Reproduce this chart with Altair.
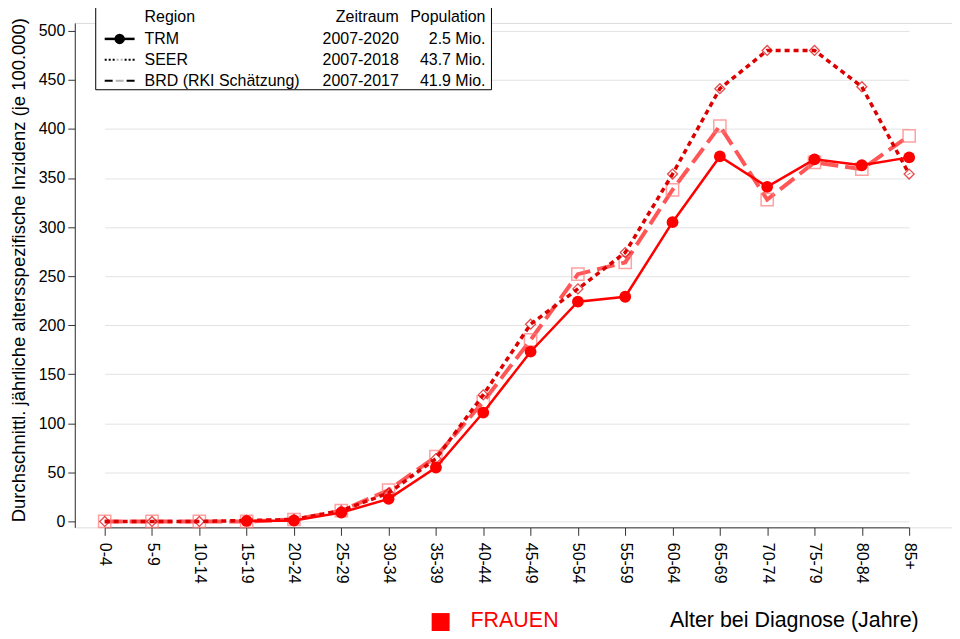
import altair as alt
import pandas as pd

ages = ["0-4", "5-9", "10-14", "15-19", "20-24", "25-29", "30-34", "35-39", "40-44",
        "45-49", "50-54", "55-59", "60-64", "65-69", "70-74", "75-79", "80-84", "85+"]
trm = [None, None, None, 0.5, 1, 9, 23, 55, 111, 173, 224, 229, 305, 372, 341, 369, 363, 371]
seer = [0, 0, 0, 1, 2, 11, 29, 64, 129, 201, 237, 274, 354, 441, 480, 480, 443, 354]
brd = [0, 0, 0, 0, 2, 11, 32, 66, 122, 185, 252, 264, 338, 403, 328, 366, 359, 393]
y_ticks = [0, 50, 100, 150, 200, 250, 300, 350, 400, 450, 500]

legend_header = ["Region", "Zeitraum", "Population"]
legend_region = ["TRM", "SEER", "BRD (RKI Schätzung)"]
legend_period = ["2007-2020", "2007-2018", "2007-2017"]
legend_pop = ["2.5 Mio.", "43.7 Mio.", "41.9 Mio."]

df = pd.DataFrame({"age": ages, "TRM": trm, "SEER": seer, "BRD": brd})

FONT = "Liberation Sans"
W, H = 880, 506

x_enc = alt.X("age:N", sort=ages, title=None,
              scale=alt.Scale(type="point", domain=ages, range=[30, 837], padding=0),
              axis=alt.Axis(labelAngle=90, labelAlign="left", labelBaseline="middle",
                            labelFontSize=16, labelColor="black", labelFont=FONT,
                            labelPadding=7, tickSize=8, tickColor="#333", domainColor="#333",
                            grid=False))
y_scale = alt.Scale(domain=[-6, 508], nice=False, zero=False)
y_axis = alt.Axis(values=y_ticks, labelFontSize=16, labelColor="black", labelFont=FONT,
                  tickSize=7, tickColor="#333", domainColor="#333", labelPadding=3,
                  grid=True, gridColor="#e3e3e3", gridWidth=1)

base = alt.Chart(df)

# y-axis + grid carrier
axis_layer = base.mark_point(opacity=0).encode(
    x=x_enc, y=alt.Y("SEER:Q", scale=y_scale, axis=y_axis, title=None))

brd_line = base.mark_line(color="#ff4545", strokeWidth=4, strokeDash=[18, 7], opacity=0.9).encode(
    x=x_enc, y=alt.Y("BRD:Q", scale=y_scale))
brd_pts = base.mark_point(shape="square", size=150, filled=False, color="#ff7a7a", strokeWidth=1.5).encode(
    x=x_enc, y=alt.Y("BRD:Q", scale=y_scale))
seer_line = base.mark_line(color="#dd0000", strokeWidth=3.5, strokeDash=[5, 4]).encode(
    x=x_enc, y=alt.Y("SEER:Q", scale=y_scale))
seer_pts = base.mark_point(shape="diamond", size=100, filled=False, color="#dd0000", strokeWidth=1.3).encode(
    x=x_enc, y=alt.Y("SEER:Q", scale=y_scale))
trm_line = base.mark_line(color="#ff0000", strokeWidth=2.5).encode(
    x=x_enc, y=alt.Y("TRM:Q", scale=y_scale))
trm_pts = base.mark_circle(size=140, color="#ff0000", opacity=1).encode(
    x=x_enc, y=alt.Y("TRM:Q", scale=y_scale))

layers = [axis_layer, brd_line, brd_pts, seer_line, seer_pts, trm_line, trm_pts]

one = pd.DataFrame({"a": [0]})
ob = alt.Chart(one)


def txt(s, x, y, size=16, align="left", color="black", angle=0, baseline="middle"):
    kw = dict(fontSize=size, font=FONT, color=color, align=align, baseline=baseline)
    if angle:
        kw["angle"] = angle
    return ob.mark_text(**kw).encode(x=alt.value(x), y=alt.value(y), text=alt.value(s))


# legend box
layers.append(ob.mark_rect(fill="white", stroke="black", strokeWidth=1).encode(
    x=alt.value(21), x2=alt.value(418), y=alt.value(-18), y2=alt.value(67)))
row_y = [-6, 16, 37, 58]
layers.append(txt(legend_header[0], 70, row_y[0]))
layers.append(txt(legend_header[1], 325, row_y[0], align="right"))
layers.append(txt(legend_header[2], 412, row_y[0], align="right"))
for i in range(3):
    yy = row_y[i + 1]
    layers.append(txt(legend_region[i], 70, yy))
    layers.append(txt(legend_period[i], 325, yy, align="right"))
    layers.append(txt(legend_pop[i], 412, yy, align="right"))

# legend symbols
layers.append(ob.mark_rule(color="black", strokeWidth=2.5).encode(
    x=alt.value(30), x2=alt.value(60), y=alt.value(row_y[1])))
layers.append(ob.mark_circle(size=110, color="black", opacity=1).encode(
    x=alt.value(45), y=alt.value(row_y[1])))
layers.append(ob.mark_rule(color="black", strokeWidth=2, strokeDash=[2, 2]).encode(
    x=alt.value(30), x2=alt.value(60), y=alt.value(row_y[2])))
layers.append(ob.mark_point(shape="diamond", size=80, filled=True, fill="white", color="black", strokeWidth=1.2).encode(
    x=alt.value(45), y=alt.value(row_y[2])))
layers.append(ob.mark_rule(color="black", strokeWidth=2, strokeDash=[8, 3]).encode(
    x=alt.value(30), x2=alt.value(60), y=alt.value(row_y[3])))
layers.append(ob.mark_point(shape="square", size=110, filled=True, fill="white", color="black", strokeWidth=1.2).encode(
    x=alt.value(45), y=alt.value(row_y[3])))

# titles
layers.append(txt("Durchschnittl. jährliche altersspezifische Inzidenz (je 100.000)", -56, 248,
                  size=18.5, align="center", angle=270))
layers.append(txt("Alter bei Diagnose (Jahre)", 597, 600, size=21.5))
layers.append(txt("FRAUEN", 397, 600, size=21.5, color="#ff0000"))
layers.append(ob.mark_square(size=324, color="#ff0000", opacity=1).encode(
    x=alt.value(367), y=alt.value(601)))

chart = alt.layer(*layers).properties(
    width=W, height=H,
    autosize=alt.AutoSizeParams(type="none"),
    padding={"left": 67, "top": 14, "right": 0, "bottom": 110},
).configure_view(stroke=None).configure(background="white")

chart.save("out.html", embed_options={"renderer": "svg", "actions": False})
